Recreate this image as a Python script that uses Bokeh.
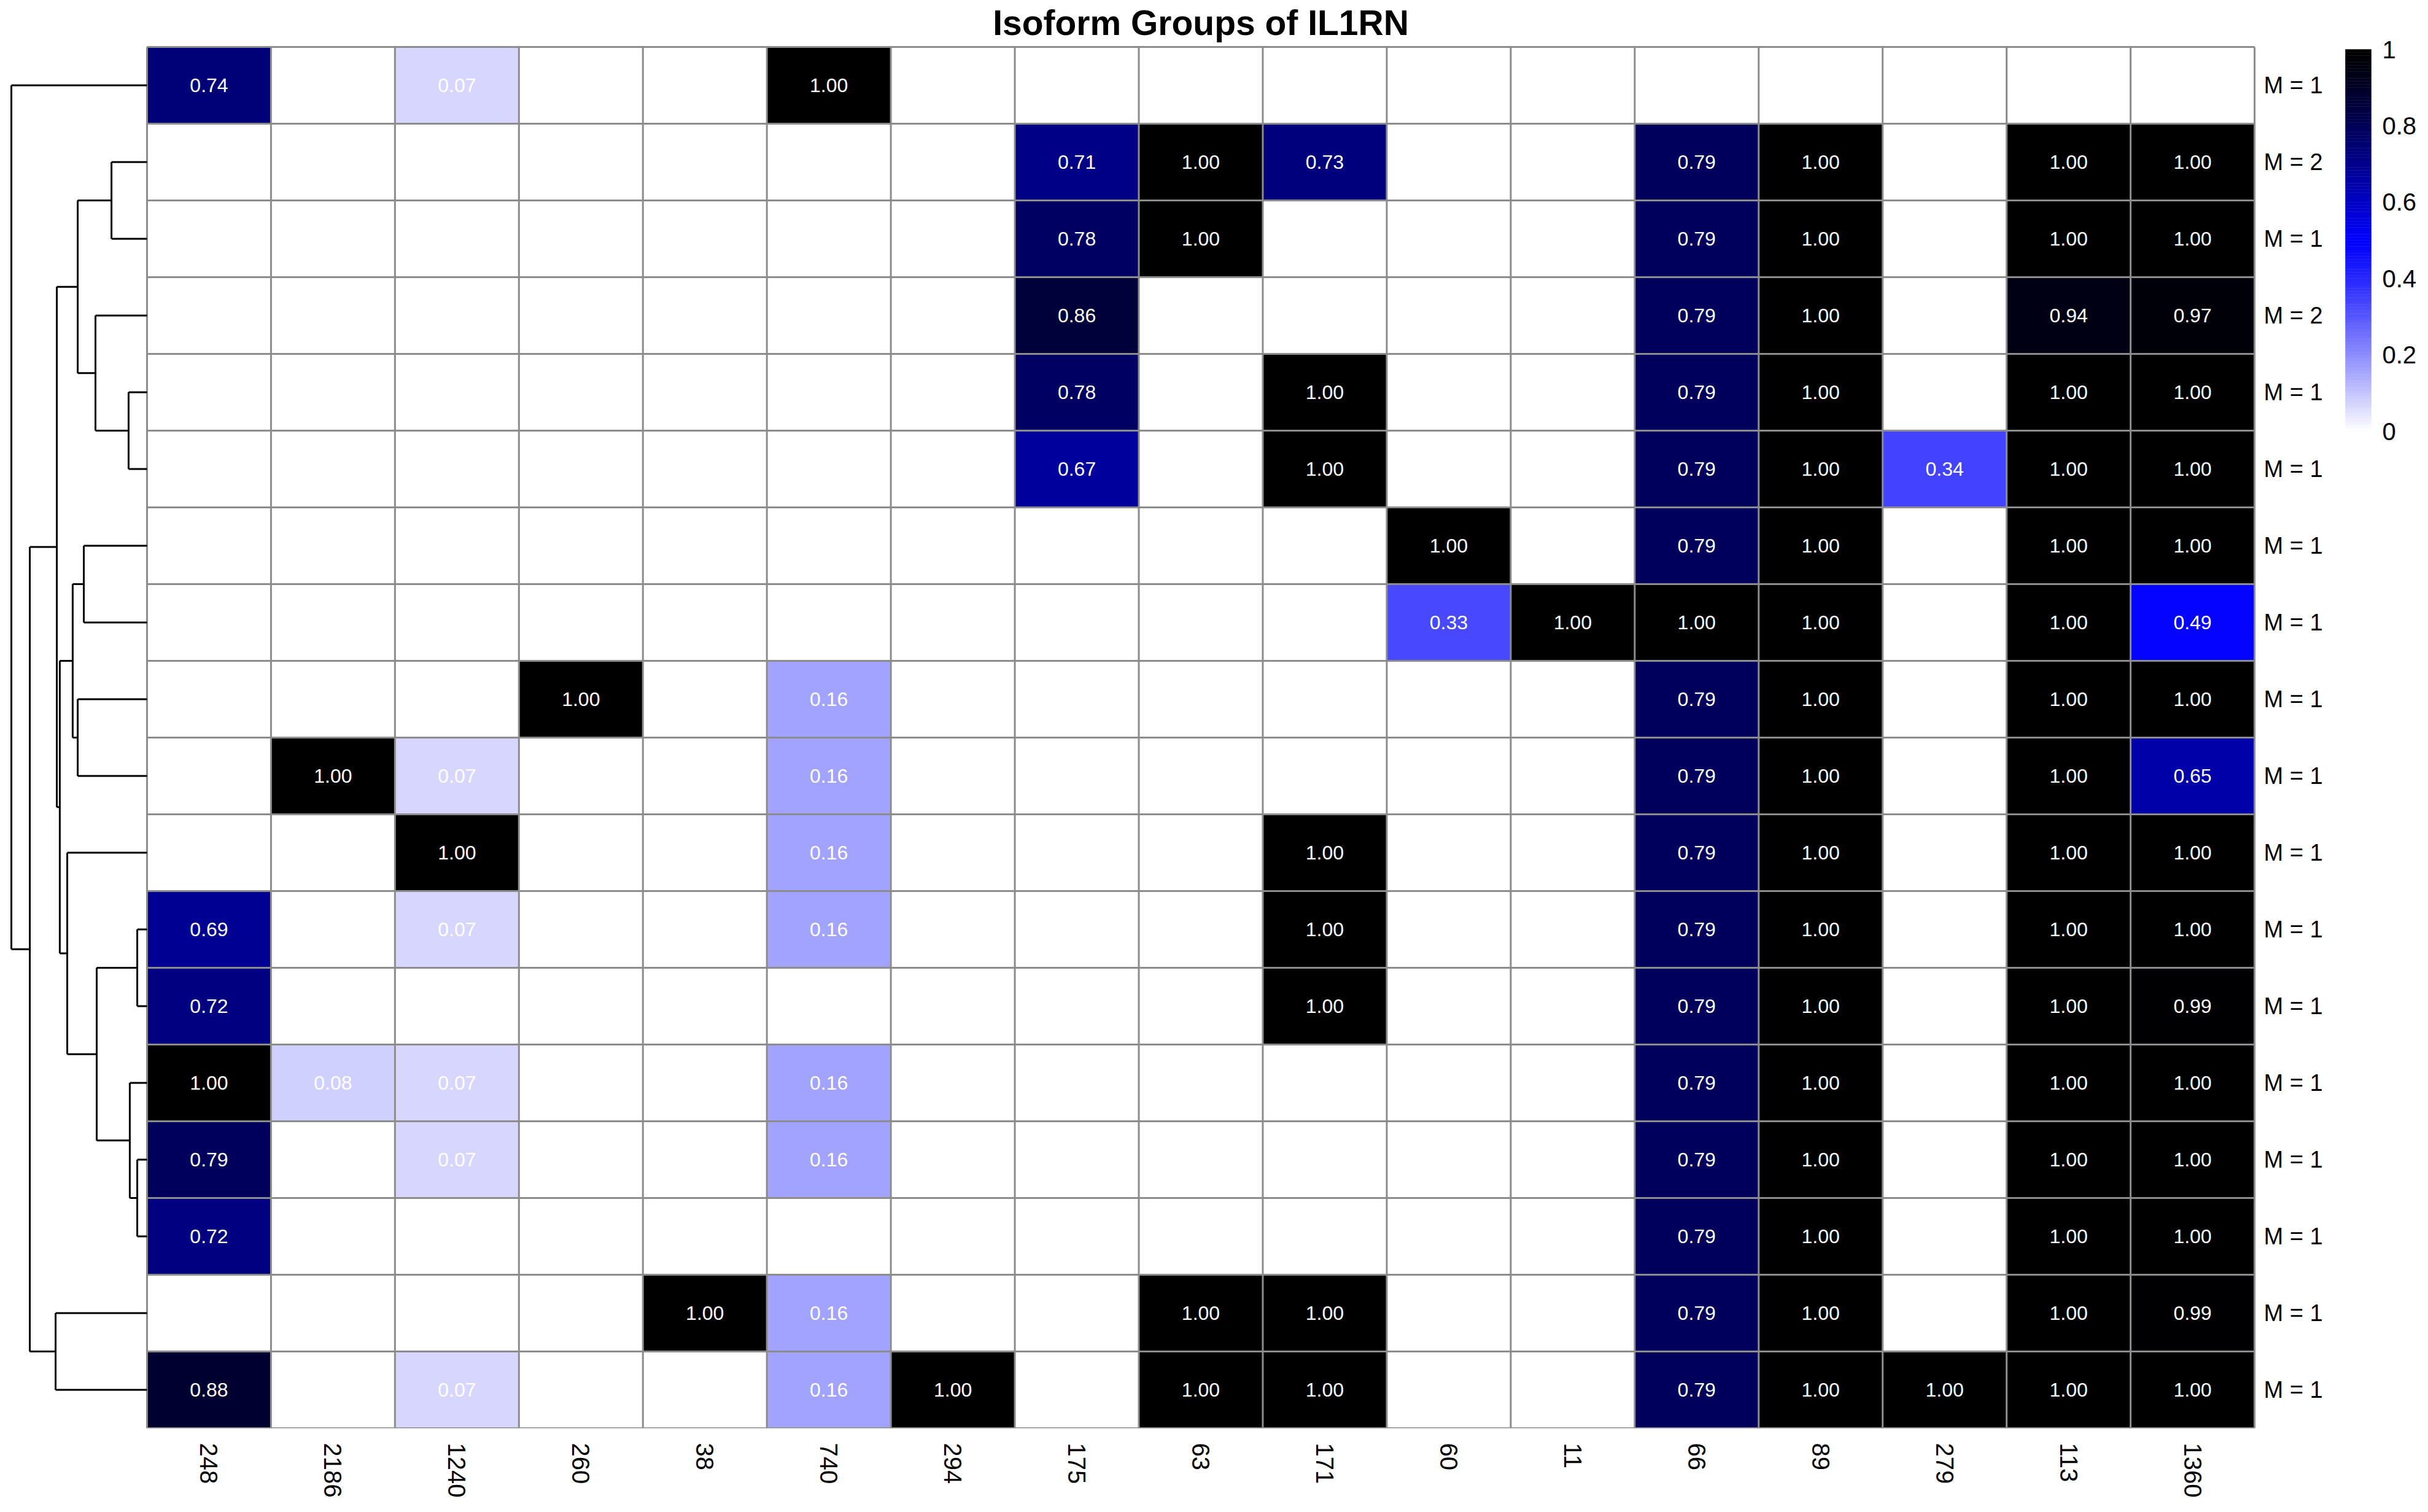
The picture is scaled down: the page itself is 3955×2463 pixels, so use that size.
import math
from bokeh.plotting import figure
from bokeh.models import Range1d, FixedTicker
from bokeh.core.properties import value
from bokeh.embed import file_html
from bokeh.resources import INLINE

# ---------------- data ----------------
title = "Isoform Groups of IL1RN"
columns = ["248", "2186", "1240", "260", "38", "740", "294", "175", "63",
           "171", "60", "11", "66", "89", "279", "113", "1360"]
row_labels = ["M = 1", "M = 2", "M = 1", "M = 2", "M = 1", "M = 1", "M = 1", "M = 1", "M = 1",
              "M = 1", "M = 1", "M = 1", "M = 1", "M = 1", "M = 1", "M = 1", "M = 1", "M = 1"]
N = None
values = [
    [0.74, N, 0.07, N, N, 1.00, N, N, N, N, N, N, N, N, N, N, N],
    [N, N, N, N, N, N, N, 0.71, 1.00, 0.73, N, N, 0.79, 1.00, N, 1.00, 1.00],
    [N, N, N, N, N, N, N, 0.78, 1.00, N, N, N, 0.79, 1.00, N, 1.00, 1.00],
    [N, N, N, N, N, N, N, 0.86, N, N, N, N, 0.79, 1.00, N, 0.94, 0.97],
    [N, N, N, N, N, N, N, 0.78, N, 1.00, N, N, 0.79, 1.00, N, 1.00, 1.00],
    [N, N, N, N, N, N, N, 0.67, N, 1.00, N, N, 0.79, 1.00, 0.34, 1.00, 1.00],
    [N, N, N, N, N, N, N, N, N, N, 1.00, N, 0.79, 1.00, N, 1.00, 1.00],
    [N, N, N, N, N, N, N, N, N, N, 0.33, 1.00, 1.00, 1.00, N, 1.00, 0.49],
    [N, N, N, 1.00, N, 0.16, N, N, N, N, N, N, 0.79, 1.00, N, 1.00, 1.00],
    [N, 1.00, 0.07, N, N, 0.16, N, N, N, N, N, N, 0.79, 1.00, N, 1.00, 0.65],
    [N, N, 1.00, N, N, 0.16, N, N, N, 1.00, N, N, 0.79, 1.00, N, 1.00, 1.00],
    [0.69, N, 0.07, N, N, 0.16, N, N, N, 1.00, N, N, 0.79, 1.00, N, 1.00, 1.00],
    [0.72, N, N, N, N, N, N, N, N, 1.00, N, N, 0.79, 1.00, N, 1.00, 0.99],
    [1.00, 0.08, 0.07, N, N, 0.16, N, N, N, N, N, N, 0.79, 1.00, N, 1.00, 1.00],
    [0.79, N, 0.07, N, N, 0.16, N, N, N, N, N, N, 0.79, 1.00, N, 1.00, 1.00],
    [0.72, N, N, N, N, N, N, N, N, N, N, N, 0.79, 1.00, N, 1.00, 1.00],
    [N, N, N, N, 1.00, 0.16, N, N, 1.00, 1.00, N, N, 0.79, 1.00, N, 1.00, 0.99],
    [0.88, N, 0.07, N, N, 0.16, 1.00, N, 1.00, 1.00, N, N, 0.79, 1.00, 1.00, 1.00, 1.00],
]
# row dendrogram (leaves = rows 0..17, new clusters numbered from 18), relative heights
merge_left = [1, 4, 3, 18, 6, 8, 22, 11, 14, 13, 25, 10, 24, 21, 16, 31, 0]
merge_right = [2, 5, 19, 20, 7, 9, 23, 12, 15, 26, 27, 28, 29, 30, 17, 32, 33]
merge_height = [0.262, 0.136, 0.380, 0.511, 0.466, 0.511, 0.548, 0.072, 0.072,
                0.127, 0.371, 0.588, 0.643, 0.665, 0.674, 0.864, 1.000]
legend_ticks = [0, 0.2, 0.4, 0.6, 0.8, 1]
legend_tick_labels = ["0", "0.2", "0.4", "0.6", "0.8", "1"]

# ---------------- layout (pixels) ----------------
W, H = 3955, 2463
HM_LEFT, HM_RIGHT, HM_TOP, HM_BOTTOM = 239, 3672, 76, 2326
NC, NR = len(columns), len(row_labels)
CW = (HM_RIGHT - HM_LEFT) / NC
RH = (HM_BOTTOM - HM_TOP) / NR
DEND_PX = 221
FONT = "Liberation Sans"
GAMMA = 1.17


def ramp(v):
    # white (0) -> blue (0.5) -> black (1)
    if v is None:
        return "#ffffff"
    if v <= 0.5:
        t = v / 0.5
        r = g = 255 * (1 - t) ** GAMMA
        b = 255
    else:
        t = (v - 0.5) / 0.5
        r = g = 0
        b = 255 * (1 - t) ** GAMMA
    return "#%02x%02x%02x" % (int(round(r)), int(round(g)), int(round(b)))


p = figure(width=W, height=H, output_backend="svg", toolbar_location=None,
           x_range=Range1d(-HM_LEFT / CW, (W - HM_LEFT) / CW),
           y_range=Range1d(start=NR, end=-HM_TOP / RH),
           x_axis_location="below", y_axis_location=None,
           min_border_left=0, min_border_right=0, min_border_top=0,
           min_border_bottom=H - HM_BOTTOM)
p.outline_line_color = None
p.background_fill_color = "white"
p.border_fill_color = "white"
p.xgrid.visible = False
p.ygrid.visible = False

# cells
L, R, T, B, C = [], [], [], [], []
tx, ty, tt = [], [], []
for r, row in enumerate(values):
    for c, v in enumerate(row):
        L.append(c); R.append(c + 1); T.append(r); B.append(r + 1); C.append(ramp(v))
        if v is not None:
            tx.append(c + 0.5); ty.append(r + 0.5); tt.append("%.2f" % v)
p.quad(left=L, right=R, top=T, bottom=B, fill_color=C, line_color=None)

# grid lines
gx0, gy0, gx1, gy1 = [], [], [], []
for c in range(NC + 1):
    gx0.append(c); gx1.append(c); gy0.append(0); gy1.append(NR)
for r in range(NR + 1):
    gx0.append(0); gx1.append(NC); gy0.append(r); gy1.append(r)
p.segment(x0=gx0, y0=gy0, x1=gx1, y1=gy1, line_color="#8c8c8c", line_width=3)

p.text(x=tx, y=ty, text=tt, text_color="white", text_font=value(FONT),
       text_font_size="32px", text_align="center", text_baseline="middle")

# dendrogram
scale = DEND_PX / CW
pos_y = {i: i + 0.5 for i in range(NR)}
pos_x = {i: 0.0 for i in range(NR)}
sx0, sy0, sx1, sy1 = [], [], [], []
for k, (a, b, h) in enumerate(zip(merge_left, merge_right, merge_height)):
    node = NR + k
    xn = -h * scale
    ya, yb = pos_y[a], pos_y[b]
    sx0 += [xn, xn, xn]; sy0 += [ya, ya, yb]
    sx1 += [xn, pos_x[a], pos_x[b]]; sy1 += [yb, ya, yb]
    pos_y[node] = (ya + yb) / 2
    pos_x[node] = xn
p.segment(x0=sx0, y0=sy0, x1=sx1, y1=sy1, line_color="black", line_width=3)

# row labels (right)
p.text(x=[NC + 15 / CW] * NR, y=[r + 0.5 for r in range(NR)], text=row_labels,
       text_color="black", text_font=value(FONT), text_font_size="38px",
       text_align="left", text_baseline="middle")

# title
p.text(x=[NC / 2], y=[(36 - HM_TOP) / RH], text=[title], text_color="black",
       text_font=value(FONT), text_font_style="bold", text_font_size="57px",
       text_align="center", text_baseline="alphabetic")

# colour legend
LEG_TOP_PX, LEG_BOT_PX = 80, 702
LEG_X0 = (3820 - HM_LEFT) / CW
LEG_X1 = (3862 - HM_LEFT) / CW
LEG_TX = (3880 - HM_LEFT) / CW


def leg_y(v):
    return (LEG_BOT_PX - (LEG_BOT_PX - LEG_TOP_PX) * v - HM_TOP) / RH


nsteps = 120
bl, br, bt, bb, bc = [], [], [], [], []
for i in range(nsteps):
    v0 = i / nsteps
    v1 = (i + 1) / nsteps
    bl.append(LEG_X0); br.append(LEG_X1)
    bb.append(leg_y(v0)); bt.append(leg_y(v1))
    bc.append(ramp((v0 + v1) / 2))
p.quad(left=bl, right=br, top=bt, bottom=bb, fill_color=bc, line_color=bc, line_width=0.5)
p.text(x=[LEG_TX] * len(legend_ticks), y=[leg_y(v) for v in legend_ticks],
       text=legend_tick_labels, text_color="black", text_font=value(FONT),
       text_font_size="40px", text_align="left", text_baseline="middle")

# column labels via the x axis
ax = p.xaxis[0]
ax.ticker = FixedTicker(ticks=[c + 0.5 for c in range(NC)])
ax.major_label_overrides = {c + 0.5: columns[c] for c in range(NC)}
ax.major_label_orientation = -math.pi / 2
ax.axis_line_color = None
ax.major_tick_line_color = None
ax.minor_tick_line_color = None
ax.major_tick_out = 0
ax.major_tick_in = 0
ax.major_label_standoff = 24
ax.major_label_text_font = FONT
ax.major_label_text_font_size = "40px"
ax.major_label_text_color = "black"

open("out.html", "w").write(file_html(p, INLINE))
